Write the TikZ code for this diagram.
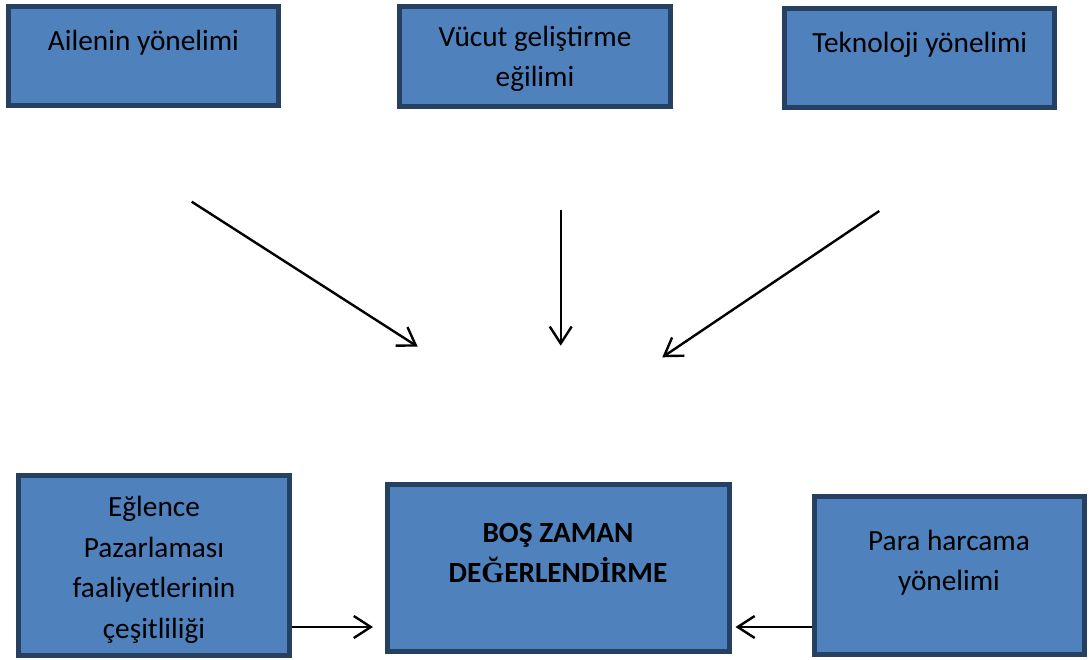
\documentclass[tikz,border=0pt]{standalone}
\usepackage{fontspec}
\setmainfont{Carlito}
\newfontfamily\serifbold{Liberation Serif}
\usepackage{xcolor}
\usetikzlibrary{positioning,arrows.meta}
\definecolor{boxfill}{RGB}{79,129,189}
\definecolor{boxline}{RGB}{38,64,97}
\newcommand{\inbox}[4]{\parbox[c][#1][t]{#2}{\centering\vspace*{#3}\strut#4\par}}

\begin{document}
\begin{tikzpicture}[x=1pt,y=-1pt,
    block/.style={draw=boxline,fill=boxfill,line width=5pt,inner sep=0pt,
      font=\fontsize{29.3}{40.5}\selectfont},
    arr/.style={line width=2.4pt,-{Straight Barb[length=17pt,width=22pt]}}]
  \useasboundingbox (0,0) rectangle (1089,660);
  \node[block] (ailenin) at (143.5,56) {\inbox{99pt}{270pt}{15.2pt}{Ailenin yönelimi}};
  \node[block] (vucut) at (535,56.5) {\inbox{100pt}{271pt}{11.2pt}{Vücut geliştirme\\eğilimi}};
  \node[block] (teknoloji) at (919.8,57.9) {\inbox{99.3pt}{270pt}{15.8pt}{Teknoloji yönelimi}};
  \node[block] (eglence) at (154,565) {\inbox{180pt}{271pt}{13.5pt}{Eğlence\\Pazarlaması\\faaliyetlerinin\\çeşitliliği}};
  \node[block] (bos) at (558,568.3) {\inbox{167pt}{342pt}{29.2pt}{\bfseries BOŞ ZAMAN\\DE{\serifbold Ğ}ERLEND{\serifbold İ}RME}};
  \node[block] (para) at (949,575.7) {\inbox{158pt}{270pt}{25.2pt}{Para harcama\\yönelimi}};
  \coordinate (a1s) at (191.7,201.7);
  \coordinate (a1e) at (417.7,346.7);
  \coordinate (a2s) at (560.7,210);
  \coordinate (a2e) at (560.7,345.7);
  \coordinate (a3s) at (879.3,211);
  \coordinate (a3e) at (662.3,357.3);
  \draw[arr] (a1s) -- (a1e);
  \draw[arr] (a2s) -- (a2e);
  \draw[arr] (a3s) -- (a3e);
  \draw[arr,shorten >=11.5pt] ([yshift=-62pt]eglence.east) -- ([yshift=-58.7pt]bos.west);
  \draw[arr,shorten >=4pt] ([yshift=-51.3pt]para.west) -- ([yshift=-58.7pt]bos.east);
\end{tikzpicture}
\end{document}
